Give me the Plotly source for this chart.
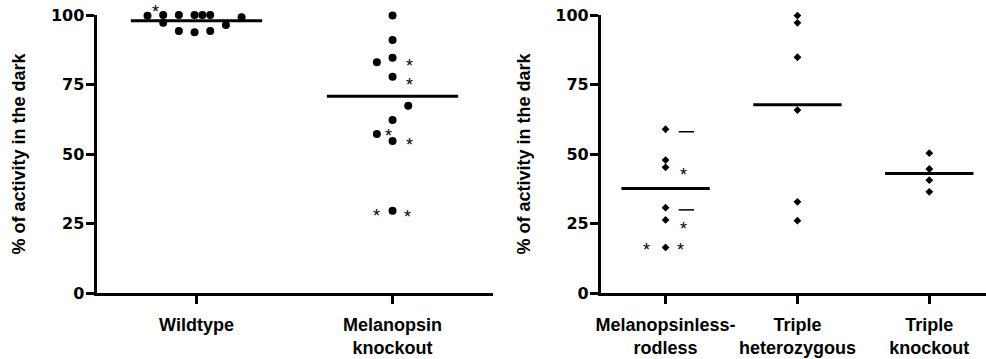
import numpy as np
import plotly.graph_objects as go

# ---- data -------------------------------------------------------------
y_ticks = [0, 25, 50, 75, 100]
y_title = "% of activity in the dark"

# Left panel (circles)
left_groups = ["Wildtype", "Melanopsin<br>knockout"]
wildtype = [99.7, 100.0, 97.2, 100.0, 94.2, 100.0, 93.8, 100.0, 100.0, 94.2, 96.4, 99.2]
wildtype_spread = [-0.25, -0.17, -0.17, -0.09, -0.09, -0.01, -0.01, 0.03, 0.07, 0.07, 0.15, 0.23]
mel_ko = [99.8, 91.0, 84.6, 83.0, 77.8, 67.4, 62.2, 57.2, 54.7, 29.6]
mel_ko_spread = [0, 0, 0, -0.08, 0, 0.08, 0, -0.08, 0, 0]

# Right panel (diamonds)
right_groups = ["Melanopsinless-<br>rodless", "Triple<br>heterozygous", "Triple<br>knockout"]
mel_rodless = [58.9, 47.8, 45.2, 30.7, 26.3, 16.4]
triple_het = [99.8, 97.2, 84.8, 65.8, 32.8, 26.0]
triple_ko = [50.3, 44.6, 40.6, 36.4]

# Flags next to individual animals: (group position, value, extra lift in px)
left_stars = [(-0.207, 100.0, 6), (1.087, 82.6, 0), (1.087, 75.8, 0), (0.977, 57.4, 0),
              (1.087, 54.2, 0), (0.918, 28.7, 0), (1.074, 28.4, 0)]
right_stars = [(0.134, 43.6, 0), (0.134, 24.2, 0), (-0.143, 16.4, 0), (0.115, 16.4, 0)]
right_dashes = [(0.158, 58.0), (0.158, 29.9)]

# ---- styling ----------------------------------------------------------
FONT = "Liberation Sans, Arial, sans-serif"
NUM_FONT = "DejaVu Sans, Liberation Sans, sans-serif"
BLACK = "#000000"
MEAN_HALF = 0.335

fig = go.Figure()


def add_group(pos, values, spread, symbol, size, xa, ya):
    xs = [pos + s for s in spread]
    fig.add_trace(go.Scatter(
        x=xs, y=values, mode="markers", xaxis=xa, yaxis=ya,
        marker=dict(symbol=symbol, size=size, color=BLACK, line=dict(width=0)),
        cliponaxis=False, hoverinfo="y"))
    m = float(np.mean(values))
    fig.add_trace(go.Scatter(
        x=[pos - MEAN_HALF, pos + MEAN_HALF], y=[m, m], mode="lines",
        xaxis=xa, yaxis=ya, line=dict(color=BLACK, width=3),
        cliponaxis=False, hoverinfo="skip"))


add_group(0, wildtype, wildtype_spread, "circle", 8, "x", "y")
add_group(1, mel_ko, mel_ko_spread, "circle", 8, "x", "y")
add_group(0, mel_rodless, [0] * len(mel_rodless), "diamond", 6, "x2", "y2")
add_group(1, triple_het, [0] * len(triple_het), "diamond", 6, "x2", "y2")
add_group(2, triple_ko, [0] * len(triple_ko), "diamond", 6, "x2", "y2")

# dash flags
fig.add_trace(go.Scatter(
    x=[d[0] for d in right_dashes], y=[d[1] for d in right_dashes],
    mode="markers", xaxis="x2", yaxis="y2", cliponaxis=False, hoverinfo="skip",
    marker=dict(symbol="line-ew", size=11, line=dict(width=1.5, color=BLACK))))

# star flags
annotations = []
for refs, stars in (("", left_stars), ("2", right_stars)):
    for sx, sy, lift in stars:
        annotations.append(dict(
            x=sx, y=sy, xref="x" + refs, yref="y" + refs, text="*",
            showarrow=False, yshift=-3 + lift, xanchor="center", yanchor="middle",
            font=dict(family=FONT, size=18, color=BLACK)))

axis_common = dict(
    showline=True, linecolor=BLACK, linewidth=3, showgrid=False, zeroline=False,
    ticks="outside", ticklen=8, tickwidth=3, tickcolor=BLACK,
)

fig.update_layout(
    width=986, height=359,
    margin=dict(l=0, r=0, t=15, b=66),
    paper_bgcolor="white", plot_bgcolor="white",
    showlegend=False,
    font=dict(family=FONT, color=BLACK),
    annotations=annotations,
    xaxis=dict(axis_common, domain=[92 / 986, 490 / 986], range=[-0.51, 1.51],
               tickmode="array", tickvals=list(range(len(left_groups))),
               ticktext=left_groups, ticklabelstandoff=5,
               tickfont=dict(family=FONT, size=18, weight="bold"), anchor="y"),
    yaxis=dict(axis_common, domain=[0, 1], range=[0, 100],
               tickmode="array", tickvals=y_ticks, anchor="x",
               tickfont=dict(family=NUM_FONT, size=16, weight="bold"),
               ticklabelstandoff=-2,
               title=dict(text=y_title, standoff=21,
                          font=dict(family=FONT, size=18, weight="bold"))),
    xaxis2=dict(axis_common, domain=[599 / 986, 1.0], range=[-0.49, 2.43],
                tickmode="array", tickvals=list(range(len(right_groups))),
                ticktext=right_groups, ticklabelstandoff=5,
                tickfont=dict(family=FONT, size=18, weight="bold"), anchor="y2"),
    yaxis2=dict(axis_common, domain=[0, 1], range=[0, 100],
                tickmode="array", tickvals=y_ticks, anchor="x2",
                tickfont=dict(family=NUM_FONT, size=16, weight="bold"),
                ticklabelstandoff=-2,
                title=dict(text=y_title, standoff=21,
                           font=dict(family=FONT, size=18, weight="bold"))),
)

fig.write_html("out.html")
